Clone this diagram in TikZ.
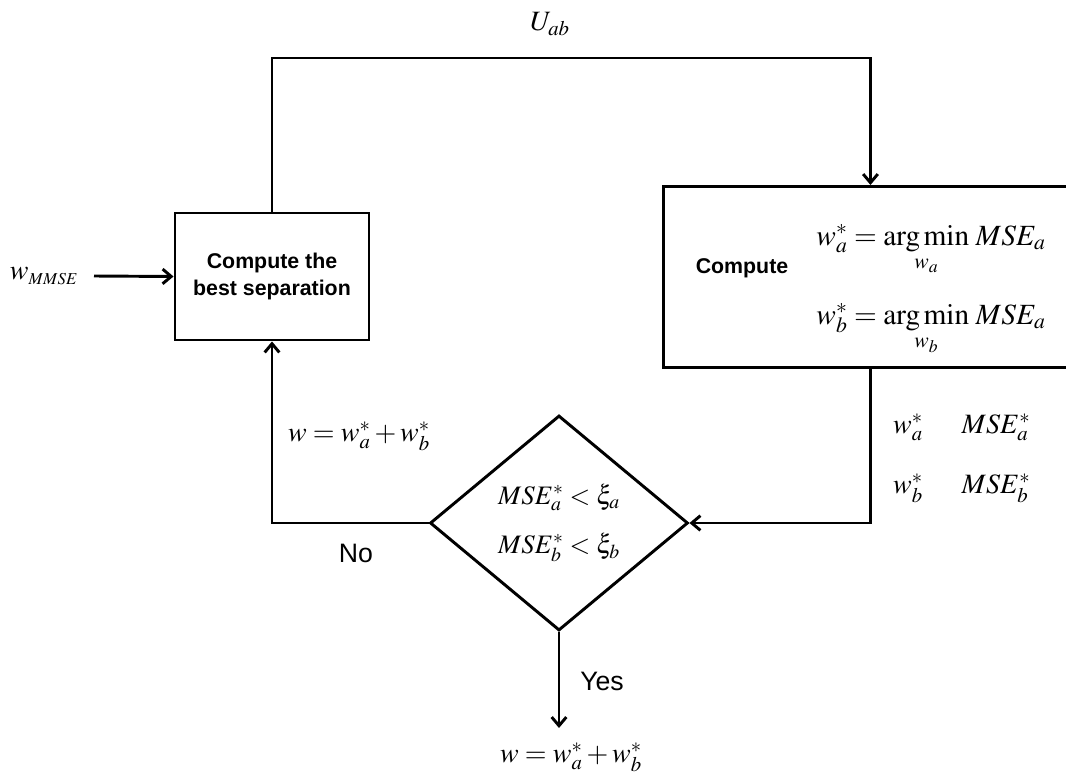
\documentclass[tikz,border=0pt]{standalone}
\usepackage{mathptmx}
\usepackage[no-math]{fontspec}
\setmainfont{Liberation Sans}
\usetikzlibrary{arrows.meta,shapes.geometric}
\begin{document}
\begin{tikzpicture}[x=0.75pt,y=-0.75pt,
  line width=2.2pt,
  box/.style={draw, rectangle, inner sep=0pt},
  arr/.style={-{Straight Barb[length=6.5pt,width=11pt]}},
  lbl/.style={inner sep=0pt, font=\fontsize{20}{24}\selectfont},
  eq/.style={inner sep=0pt, font=\fontsize{21}{24}\selectfont},
  bigeq/.style={inner sep=0pt, font=\fontsize{22}{26}\selectfont},
  bold/.style={font=\fontsize{16}{20}\selectfont\bfseries, align=center}]
\clip (0,0) rectangle (1066,777);

% process boxes
\node[box, bold, minimum width=145.5pt, minimum height=95.25pt] (sep) at (272,276.5) {Compute the\\best separation};
\node[box, minimum width=310.5pt, minimum height=135.75pt, anchor=north west] (comp) at (662,185) {};
\node[bold] (cmp) at (742,268) {Compute};
\node[bigeq, anchor=base west] (eqa) at (815,245) {$w_a^* = \mathop{\mathrm{arg\,min}}\limits_{w_a}\, MSE_a$};
\node[bigeq, anchor=base west] (eqb) at (815,324) {$w_b^* = \mathop{\mathrm{arg\,min}}\limits_{w_b}\, MSE_a$};

% decision
\node[draw, diamond, inner sep=0pt, minimum width=193.5pt, minimum height=161.25pt,
      align=center, font=\fontsize{20}{37}\selectfont] (dec) at (559,523)
      {$MSE_a^* < \xi_a$\\$MSE_b^* < \xi_b$};

% labels
\node[eq, font=\fontsize{21}{24}\selectfont] (win) at (44,276)
      {$w_{\mbox{\fontsize{12.5}{14}\selectfont$MMSE$}}$};
\node[eq] (uab) at (550,24) {$U_{ab}$};
\node[eq] (wsum) at (359,436) {$w = w_a^* + w_b^*$};
\node[eq] (out) at (571,757) {$w = w_a^* + w_b^*$};
\node[eq] (wa) at (908,427) {$w_a^*$};
\node[eq] (msea) at (996,427) {$MSE_a^*$};
\node[eq] (wb) at (908,488) {$w_b^*$};
\node[eq] (mseb) at (996,488) {$MSE_b^*$};
\node[lbl] (no) at (356,553) {No};
\node[lbl] (yes) at (602,681) {Yes};

% connectors
\coordinate (topline) at (0,58);
\coordinate (inlet) at (94,276);
\coordinate (outlet) at (559,728);
\draw[arr] (inlet) -- (sep.west);
\draw[arr] (sep.north) -- (sep.north |- topline) -| (comp.north);
\draw[arr] (comp.south) |- (dec.east);
\draw[arr] (dec.west) -| (sep.south);
\draw[arr] (dec.south) -- (outlet);
\end{tikzpicture}
\end{document}
